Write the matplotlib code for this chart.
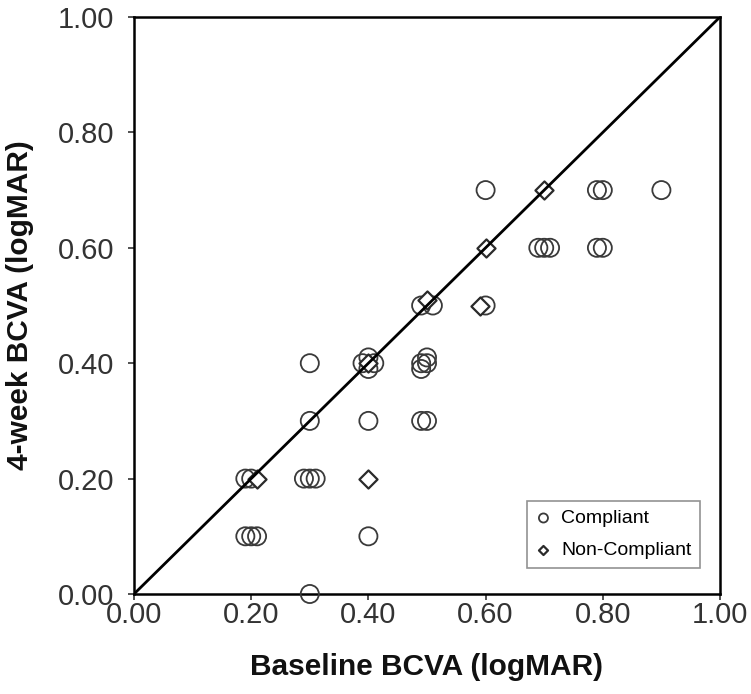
import matplotlib
matplotlib.use("Agg")
import matplotlib.pyplot as plt

plt.rcParams['font.family'] = ['Liberation Sans', 'DejaVu Sans']

compliant_x = [0.60, 0.79, 0.80, 0.90,
               0.69, 0.70, 0.71, 0.79, 0.80,
               0.49, 0.51, 0.60,
               0.39, 0.40, 0.41, 0.40,
               0.49, 0.50, 0.50, 0.49,
               0.30,
               0.30, 0.40, 0.49, 0.50,
               0.19, 0.20,
               0.29, 0.30, 0.31,
               0.19, 0.20, 0.21,
               0.40,
               0.30]
compliant_y = [0.70, 0.70, 0.70, 0.70,
               0.60, 0.60, 0.60, 0.60, 0.60,
               0.50, 0.50, 0.50,
               0.40, 0.39, 0.40, 0.41,
               0.39, 0.40, 0.41, 0.40,
               0.40,
               0.30, 0.30, 0.30, 0.30,
               0.20, 0.20,
               0.20, 0.20, 0.20,
               0.10, 0.10, 0.10,
               0.10,
               0.00]

noncompliant_x = [0.70, 0.60, 0.50, 0.59, 0.40, 0.21, 0.40]
noncompliant_y = [0.70, 0.60, 0.51, 0.50, 0.40, 0.20, 0.20]

ticks = [0.0, 0.2, 0.4, 0.6, 0.8, 1.0]
tick_labels = ["0.00", "0.20", "0.40", "0.60", "0.80", "1.00"]

fig = plt.figure(figsize=(7.51, 6.94), dpi=100)
ax = fig.add_axes([134/751, 1-594/694, (720-134)/751, (594-17)/694])

ax.scatter(compliant_x, compliant_y, s=170, marker='o', facecolors='none',
           edgecolors='#3a3a3a', linewidths=1.3, label='Compliant', zorder=3,
           clip_on=False)
ax.scatter(noncompliant_x, noncompliant_y, s=85, marker='D', facecolors='white',
           edgecolors='#2a2a2a', linewidths=1.6, label='Non-Compliant', zorder=4)
ax.plot([0, 1], [0, 1], color='black', lw=2, zorder=5)

ax.set_xlim(0, 1)
ax.set_ylim(0, 1)
ax.set_xticks(ticks)
ax.set_xticklabels(tick_labels)
ax.set_yticks(ticks)
ax.set_yticklabels(tick_labels)
ax.tick_params(direction='out', length=4, width=1.2, labelsize=21, colors='#333333')
ax.tick_params(axis='y', pad=10)
ax.tick_params(axis='x', pad=1)
for sp in ax.spines.values():
    sp.set_linewidth(1.8)
    sp.set_color('black')

ax.set_xlabel('Baseline BCVA (logMAR)', fontsize=21.5, fontweight='bold', labelpad=17,
              color='#111111')
ax.set_ylabel('4-week BCVA (logMAR)', fontsize=21.5, fontweight='bold', labelpad=17,
              color='#111111')

leg = ax.legend(loc='lower right', bbox_to_anchor=(0.966, 0.045), fontsize=14,
                frameon=True, fancybox=False, edgecolor='#777777', markerscale=0.5,
                handletextpad=0.5, handlelength=0.8, borderpad=0.45, labelspacing=0.75,
                borderaxespad=0.0)
leg.get_frame().set_linewidth(1.2)

fig.savefig('out.png', dpi=100)
